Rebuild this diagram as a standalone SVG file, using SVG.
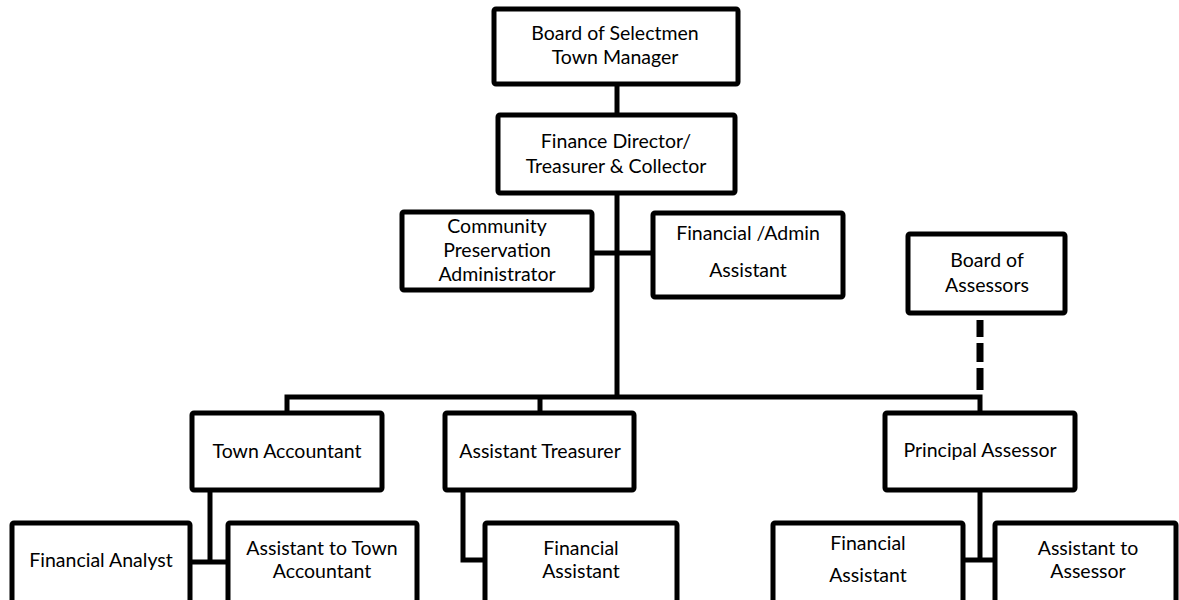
<svg xmlns="http://www.w3.org/2000/svg" width="1179" height="600" viewBox="0 0 1179 600">
<style>
.box{fill:#fff;stroke:#000;stroke-width:5;stroke-linejoin:round}
.ln{fill:none;stroke:#000;stroke-width:5;stroke-linejoin:miter}
.dash{fill:none;stroke:#000;stroke-width:7;stroke-dasharray:17 6 19 6 22 20}
text{font-family:Lato,"Liberation Sans",sans-serif;font-size:19.5px;fill:#000;text-anchor:middle}
</style>
<rect width="1179" height="600" fill="#fff"/>
<g id="connectors">
<path class="ln" d="M617 84V114"/>
<path class="ln" d="M617 193V397"/>
<path class="ln" d="M592 253H653"/>
<path class="ln" d="M287 412V397H980V412"/>
<path class="ln" d="M540 397V412"/>
<path class="dash" d="M980 320V390"/>
<path class="ln" d="M210 490V562"/>
<path class="ln" d="M190 562H228"/>
<path class="ln" d="M463 490V560H485"/>
<path class="ln" d="M980 490V560"/>
<path class="ln" d="M963 560H995"/>
</g>
<g id="n1"><rect class="box" x="494" y="9" width="244" height="75" rx="2"/><text x="615" y="40">Board of Selectmen</text><text x="615" y="64">Town Manager</text></g>
<g id="n2"><rect class="box" x="498" y="115" width="237" height="78" rx="2"/><text x="616" y="148">Finance Director/</text><text x="616" y="173">Treasurer &amp; Collector</text></g>
<g id="n3"><rect class="box" x="402" y="212" width="190" height="78" rx="2"/><text x="497" y="233">Community</text><text x="497" y="257">Preservation</text><text x="497" y="281">Administrator</text></g>
<g id="n4"><rect class="box" x="653" y="213" width="190" height="84" rx="2"/><text x="748" y="240">Financial /Admin</text><text x="748" y="277">Assistant</text></g>
<g id="n5"><rect class="box" x="908" y="234" width="157" height="79" rx="2"/><text x="987" y="267">Board of</text><text x="987" y="292">Assessors</text></g>
<g id="n6"><rect class="box" x="192" y="413" width="190" height="77" rx="2"/><text x="287" y="458">Town Accountant</text></g>
<g id="n7"><rect class="box" x="445" y="413" width="189" height="77" rx="2"/><text x="540" y="458">Assistant Treasurer</text></g>
<g id="n8"><rect class="box" x="885" y="413" width="190" height="77" rx="2"/><text x="980" y="457">Principal Assessor</text></g>
<g id="n9"><rect class="box" x="12" y="523" width="178" height="84" rx="2"/><text x="101" y="567">Financial Analyst</text></g>
<g id="n10"><rect class="box" x="228" y="523" width="189" height="84" rx="2"/><text x="322" y="555">Assistant to Town</text><text x="322" y="578">Accountant</text></g>
<g id="n11"><rect class="box" x="485" y="523" width="192" height="84" rx="2"/><text x="581" y="555">Financial</text><text x="581" y="578">Assistant</text></g>
<g id="n12"><rect class="box" x="773" y="523" width="190" height="84" rx="2"/><text x="868" y="550">Financial</text><text x="868" y="582">Assistant</text></g>
<g id="n13"><rect class="box" x="995" y="523" width="181" height="84" rx="2"/><text x="1088" y="555">Assistant to</text><text x="1088" y="578">Assessor</text></g>
</svg>
